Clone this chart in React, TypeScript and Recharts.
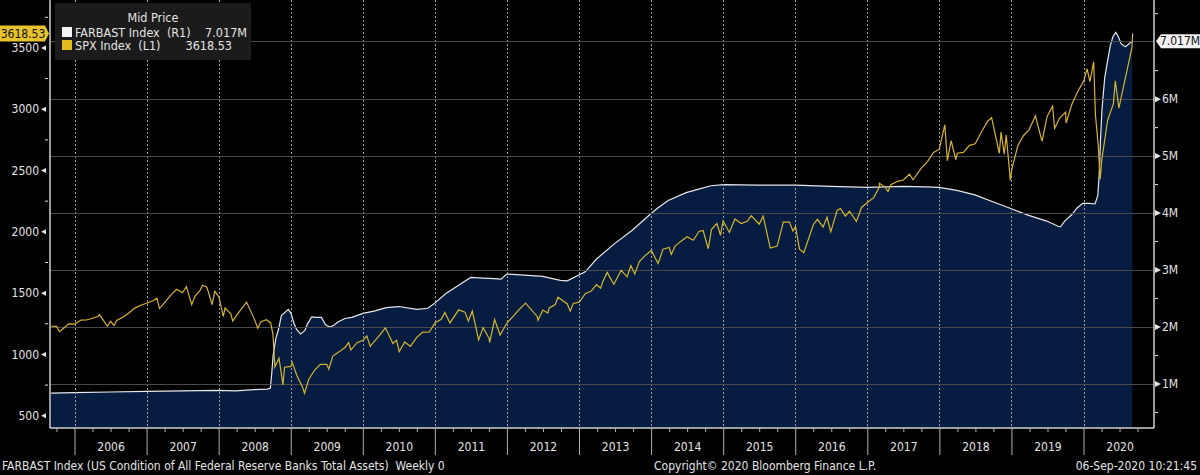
import React from "react";
import { ComposedChart, Area, Line, XAxis, YAxis, ReferenceLine } from "recharts";

// ---------- DATA ----------
const farbastDates = [
  "2005-09-02", "2005-12-28", "2006-06-28", "2006-12-27", "2007-06-27", "2007-12-26",
  "2008-03-26", "2008-06-25", "2008-09-03", "2008-09-17", "2008-09-24", "2008-10-01",
  "2008-10-15", "2008-10-29", "2008-11-12", "2008-12-17", "2008-12-31", "2009-01-14",
  "2009-01-28", "2009-02-18", "2009-03-11", "2009-03-25", "2009-04-15", "2009-05-06",
  "2009-06-03", "2009-06-24", "2009-07-15", "2009-08-05", "2009-08-26", "2009-09-30",
  "2009-11-04", "2009-12-30", "2010-02-24", "2010-04-28", "2010-06-30", "2010-09-29",
  "2010-11-24", "2010-12-29", "2011-02-23", "2011-04-27", "2011-06-29", "2011-08-31",
  "2011-10-26", "2011-11-30", "2011-12-28", "2012-03-28", "2012-06-27", "2012-09-26",
  "2012-10-31", "2012-12-26", "2013-01-30", "2013-03-27", "2013-06-26", "2013-09-25",
  "2013-12-25", "2014-01-29", "2014-03-26", "2014-06-25", "2014-08-27", "2014-10-29",
  "2014-12-31", "2015-06-24", "2015-12-30", "2016-06-29", "2016-12-28", "2017-06-28",
  "2017-10-25", "2017-12-27", "2018-03-28", "2018-06-27", "2018-09-26", "2018-12-26",
  "2019-03-27", "2019-06-26", "2019-08-28", "2019-09-04", "2019-09-25", "2019-10-30",
  "2019-11-27", "2019-12-25", "2020-01-29", "2020-02-26", "2020-03-11", "2020-03-18",
  "2020-03-25", "2020-04-01", "2020-04-15", "2020-04-29", "2020-05-13", "2020-05-27",
  "2020-06-10", "2020-06-24", "2020-07-08", "2020-07-29", "2020-08-12", "2020-08-26",
  "2020-09-02",
];
// FARBAST total assets, in millions of USD (axis shown in "M")
const farbastValues = [
  0.84, 0.85, 0.86, 0.87, 0.88, 0.89,
  0.88, 0.9, 0.91, 0.93, 1.18, 1.5,
  1.8, 1.97, 2.2, 2.31, 2.24, 2.07,
  1.96, 1.88, 1.94, 2.06, 2.18, 2.17,
  2.17, 2.04, 2.0, 2.03, 2.09, 2.15,
  2.17, 2.24, 2.28, 2.34, 2.36, 2.31,
  2.33, 2.42, 2.59, 2.73, 2.87, 2.86,
  2.85, 2.84, 2.93, 2.91, 2.89, 2.82,
  2.81, 2.91, 2.97, 3.19, 3.46, 3.7,
  3.98, 4.08, 4.22, 4.36, 4.42, 4.48,
  4.5, 4.49, 4.49, 4.47, 4.45, 4.47,
  4.46, 4.45, 4.4, 4.32, 4.2, 4.08,
  3.96, 3.86, 3.76, 3.76, 3.86, 3.97,
  4.09, 4.17, 4.17, 4.16, 4.31, 4.67,
  5.3, 5.81, 6.37, 6.66, 6.93, 7.1,
  7.17, 7.09, 6.97, 6.92, 6.96, 7.0,
  7.017,
];

const spxDates = [
  "2005-09-02", "2005-09-30", "2005-10-14", "2005-10-31", "2005-11-30", "2005-12-30",
  "2006-01-31", "2006-02-28", "2006-03-31", "2006-04-28", "2006-05-05", "2006-06-14",
  "2006-06-30", "2006-07-18", "2006-07-31", "2006-08-31", "2006-09-29", "2006-10-31",
  "2006-11-30", "2006-12-29", "2007-01-31", "2007-02-20", "2007-03-05", "2007-03-30",
  "2007-04-30", "2007-05-31", "2007-06-29", "2007-07-19", "2007-08-15", "2007-08-31",
  "2007-09-28", "2007-10-09", "2007-10-31", "2007-11-26", "2007-12-10", "2007-12-31",
  "2008-01-22", "2008-01-31", "2008-02-29", "2008-03-10", "2008-03-31", "2008-04-30",
  "2008-05-19", "2008-06-30", "2008-07-15", "2008-07-31", "2008-08-29", "2008-09-19",
  "2008-09-30", "2008-10-10", "2008-10-31", "2008-11-20", "2008-11-28", "2008-12-31",
  "2009-01-06", "2009-01-30", "2009-02-27", "2009-03-09", "2009-03-31", "2009-04-30",
  "2009-05-29", "2009-06-30", "2009-07-10", "2009-07-31", "2009-08-31", "2009-09-30",
  "2009-10-19", "2009-10-30", "2009-11-30", "2009-12-31", "2010-01-19", "2010-02-05",
  "2010-03-31", "2010-04-23", "2010-05-31", "2010-06-18", "2010-07-02", "2010-07-30",
  "2010-08-27", "2010-09-30", "2010-10-29", "2010-11-30", "2010-12-31", "2011-01-31",
  "2011-02-18", "2011-03-16", "2011-04-29", "2011-05-31", "2011-06-17", "2011-07-07",
  "2011-08-08", "2011-08-31", "2011-09-30", "2011-10-03", "2011-10-28", "2011-11-25",
  "2011-12-30", "2012-01-31", "2012-02-29", "2012-04-02", "2012-05-31", "2012-06-04",
  "2012-06-29", "2012-07-24", "2012-07-31", "2012-08-31", "2012-09-14", "2012-10-31",
  "2012-11-15", "2012-11-30", "2012-12-31", "2013-01-31", "2013-02-28", "2013-03-28",
  "2013-04-18", "2013-04-30", "2013-05-21", "2013-06-24", "2013-07-31", "2013-08-30",
  "2013-09-18", "2013-10-08", "2013-10-31", "2013-11-29", "2013-12-31", "2014-02-03",
  "2014-02-28", "2014-03-31", "2014-04-11", "2014-04-30", "2014-05-30", "2014-06-30",
  "2014-07-31", "2014-08-29", "2014-09-19", "2014-10-15", "2014-10-31", "2014-11-28",
  "2014-12-16", "2014-12-29", "2015-01-30", "2015-02-27", "2015-03-31", "2015-04-30",
  "2015-05-21", "2015-06-30", "2015-07-20", "2015-08-25", "2015-09-29", "2015-10-30",
  "2015-11-30", "2015-12-18", "2015-12-31", "2016-01-20", "2016-02-11", "2016-03-31",
  "2016-04-20", "2016-05-19", "2016-06-08", "2016-06-27", "2016-07-29", "2016-08-15",
  "2016-09-09", "2016-09-30", "2016-11-04", "2016-11-30", "2016-12-30", "2017-01-31",
  "2017-02-28", "2017-03-01", "2017-03-31", "2017-04-13", "2017-04-28", "2017-05-31",
  "2017-06-30", "2017-07-31", "2017-08-18", "2017-09-29", "2017-10-31", "2017-11-30",
  "2017-12-29", "2018-01-26", "2018-02-08", "2018-02-27", "2018-03-23", "2018-03-30",
  "2018-04-30", "2018-05-31", "2018-06-29", "2018-07-31", "2018-08-31", "2018-09-20",
  "2018-10-29", "2018-11-07", "2018-11-23", "2018-12-03", "2018-12-24", "2018-12-31",
  "2019-01-31", "2019-02-28", "2019-03-29", "2019-04-30", "2019-05-31", "2019-06-03",
  "2019-06-28", "2019-07-26", "2019-08-05", "2019-08-30", "2019-09-30", "2019-10-02",
  "2019-10-31", "2019-11-29", "2019-12-31", "2020-01-17", "2020-01-31", "2020-02-19",
  "2020-02-28", "2020-03-13", "2020-03-23", "2020-03-31", "2020-04-30", "2020-05-29",
  "2020-06-08", "2020-06-26", "2020-07-31", "2020-08-31", "2020-09-04",
];
const spxValues = [
  1230, 1229, 1186, 1207, 1249, 1248,
  1280, 1281, 1295, 1311, 1325, 1230,
  1270, 1236, 1277, 1304, 1336, 1378,
  1401, 1418, 1438, 1459, 1374, 1421,
  1482, 1531, 1503, 1553, 1406, 1474,
  1527, 1565, 1549, 1407, 1515, 1468,
  1310, 1379, 1331, 1273, 1323, 1386,
  1427, 1280, 1214, 1267, 1283, 1255,
  1166, 899, 969, 752, 896, 903,
  935, 826, 735, 683, 798, 873,
  919, 919, 880, 987, 1021, 1057,
  1097, 1036, 1096, 1115, 1150, 1066,
  1169, 1217, 1089, 1117, 1022, 1102,
  1065, 1141, 1183, 1181, 1258, 1286,
  1343, 1257, 1364, 1345, 1272, 1353,
  1119, 1219, 1131, 1099, 1285, 1159,
  1258, 1312, 1366, 1419, 1310, 1278,
  1362, 1338, 1379, 1407, 1466, 1412,
  1353, 1416, 1426, 1498, 1515, 1569,
  1541, 1598, 1669, 1573, 1686, 1633,
  1725, 1656, 1757, 1806, 1848, 1742,
  1859, 1872, 1816, 1884, 1924, 1960,
  1931, 2003, 2011, 1862, 2018, 2068,
  1972, 2090, 1995, 2105, 2068, 2086,
  2131, 2063, 2128, 1868, 1884, 2079,
  2080, 2006, 2044, 1859, 1829, 2060,
  2102, 2040, 2119, 2000, 2174, 2190,
  2128, 2168, 2085, 2199, 2239, 2279,
  2364, 2396, 2363, 2329, 2384, 2412,
  2423, 2470, 2425, 2519, 2575, 2648,
  2674, 2873, 2581, 2744, 2588, 2641,
  2648, 2705, 2718, 2816, 2902, 2931,
  2641, 2814, 2633, 2790, 2420, 2507,
  2704, 2784, 2834, 2946, 2752, 2744,
  2942, 3026, 2845, 2926, 2977, 2887,
  3038, 3141, 3231, 3330, 3226, 3386,
  2954, 2711, 2430, 2585, 2912, 3044,
  3232, 3009, 3271, 3500, 3618.53,
];

const yearLabels = [
  "2006", "2007", "2008", "2009", "2010", "2011", "2012", "2013",
  "2014", "2015", "2016", "2017", "2018", "2019", "2020",
];
const leftLabelTicks = [500, 1000, 1500, 2000, 2500, 3000, 3500];
const leftMinorTicks = [750, 1250, 1750, 2250, 2750, 3250, 3750];
const rightLabelTicks = [1, 2, 3, 4, 5, 6];
const rightMinorTicks = [0.5, 1.5, 2.5, 3.5, 4.5, 5.5, 6.5, 7.5];

const legendTitle = "Mid Price";
const farbastName = "FARBAST Index  (R1)";
const spxName = "SPX Index  (L1)";
const farbastLast = 7.017;
const spxLast = 3618.53;
const farbastLastLabel = "7.017M";
const spxLastLabel = "3618.53";
const footerLeft = "FARBAST Index (US Condition of All Federal Reserve Banks Total Assets)  Weekly 0";
const footerMid = "Copyright\u00A9 2020 Bloomberg Finance L.P.";
const footerRight = "06-Sep-2020 10:21:45";

// ---------- helpers ----------
const toYear = (s: string) => {
  const [y, m, d] = s.split("-").map(Number);
  const t = Date.UTC(y, m - 1, d);
  const a = Date.UTC(y, 0, 1);
  const b = Date.UTC(y + 1, 0, 1);
  return y + (t - a) / (b - a);
};

const farbastData = farbastDates.map((d, i) => ({ t: toYear(d), v: farbastValues[i] }));
const spxData = spxDates.map((d, i) => ({ t: toYear(d), v: spxValues[i] }));

const X_DOMAIN: [number, number] = [2005.653, 2020.971];
const yearStarts = yearLabels.map((y) => Number(y));
const xTicks: number[] = [];
for (let y = 2005; y <= 2020; y++) {
  for (let q = 0; q < 4; q++) {
    const v = y + q / 4;
    if (v >= X_DOMAIN[0] && v <= X_DOMAIN[1]) xTicks.push(v);
  }
}

const FONT = "'DejaVu Sans Condensed', 'Liberation Sans Narrow', 'DejaVu Sans', sans-serif";
const TXT = "#e4e4e4";
const GRID = "#a2a2a2";
const HGRID = "#4a4a4a";
const NAVY = "#09285a";
const YELLOW = "#d6b42c";

// grid line shapes: they take the end points the library computed and draw a crisp 1px line
const snapDown = (v: number) => Math.floor(v);
const VGridShape = (p: any) => (
  <line
    x1={snapDown(p.x1) + 0.5}
    x2={snapDown(p.x2) + 0.5}
    y1={Math.min(p.y1, p.y2)}
    y2={Math.max(p.y1, p.y2)}
    stroke={GRID}
    strokeWidth={1}
    strokeDasharray="2 2"
    shapeRendering="crispEdges"
  />
);
const HGridShape = (p: any) => (
  <line
    x1={Math.min(p.x1, p.x2)}
    x2={Math.max(p.x1, p.x2)}
    y1={snapDown(p.y1) + 0.5}
    y2={snapDown(p.y2) + 0.5}
    stroke={HGRID}
    strokeWidth={1}
    shapeRendering="crispEdges"
  />
);

const XTick = (props: any) => {
  const { x, y, payload } = props;
  const v = payload.value as number;
  const frac = v - Math.floor(v);
  if (frac < 1e-6) {
    return <line x1={x} x2={x} y1={y} y2={y + 27} stroke="#b0b0b0" strokeWidth={1} />;
  }
  const isMid = Math.abs(frac - 0.5) < 1e-6;
  return (
    <g>
      <line x1={x} x2={x} y1={y} y2={y + 4} stroke="#b0b0b0" strokeWidth={1} />
      {isMid ? (
        <text x={x} y={y + 23} textAnchor="middle" fill={TXT} fontSize={12} fontFamily={FONT}>
          {String(Math.floor(v))}
        </text>
      ) : null}
    </g>
  );
};

const LeftTick = (props: any) => {
  const { x, y, payload } = props;
  const v = payload.value as number;
  if (leftLabelTicks.includes(v)) {
    return (
      <g>
        <polygon points={`${x - 9},${y} ${x - 4},${y - 2.5} ${x - 4},${y + 2.5}`} fill={TXT} />
        <text x={x - 11} y={y} dy="0.35em" textAnchor="end" fill={TXT} fontSize={12} fontFamily={FONT}>
          {String(v)}
        </text>
      </g>
    );
  }
  return <line x1={x - 5} x2={x - 2} y1={y} y2={y} stroke={TXT} strokeWidth={1} />;
};

const RightTick = (props: any) => {
  const { x, y, payload } = props;
  const v = payload.value as number;
  if (rightLabelTicks.includes(v)) {
    return (
      <g>
        <polygon points={`${x + 7},${y} ${x + 1},${y - 3} ${x + 1},${y + 3}`} fill={TXT} />
        <text x={x + 8} y={y} dy="0.35em" textAnchor="start" fill={TXT} fontSize={12} fontFamily={FONT}>
          {`${v}M`}
        </text>
      </g>
    );
  }
  return <line x1={x + 1} x2={x + 4} y1={y} y2={y} stroke={TXT} strokeWidth={1} />;
};

const LeftBadge = (props: any) => {
  const { viewBox } = props;
  const y = viewBox.y;
  const x0 = viewBox.x;
  return (
    <g>
      <polygon
        points={`${x0 - 50},${y - 8} ${x0 - 5},${y - 8} ${x0 - 1},${y} ${x0 - 5},${y + 8} ${x0 - 50},${y + 8}`}
        fill="#e6c22c"
      />
      <text x={x0 - 27} y={y} dy="0.35em" textAnchor="middle" fill="#111" fontSize={12} fontFamily={FONT}>
        {spxLastLabel}
      </text>
    </g>
  );
};

const RightBadge = (props: any) => {
  const { viewBox } = props;
  const y = viewBox.y;
  const x1 = viewBox.x + viewBox.width;
  return (
    <g>
      <polygon
        points={`${x1 + 2},${y} ${x1 + 7},${y - 7} ${x1 + 46},${y - 7} ${x1 + 46},${y + 7} ${x1 + 7},${y + 7}`}
        fill="#f2f2f2"
      />
      <text x={x1 + 26} y={y} dy="0.35em" textAnchor="middle" fill="#111" fontSize={12} fontFamily={FONT}>
        {farbastLastLabel}
      </text>
    </g>
  );
};

export default function App() {
  return (
    <div
      style={{
        position: "absolute",
        left: 0,
        top: 0,
        width: 1200,
        height: 475,
        background: "#000",
        overflow: "hidden",
        fontFamily: FONT,
      }}
    >
      <ComposedChart width={1200} height={475} margin={{ top: 0, right: 0, bottom: 0, left: 0 }}>
        <XAxis
          xAxisId="x"
          type="number"
          dataKey="t"
          domain={X_DOMAIN}
          allowDataOverflow
          ticks={xTicks}
          interval={0}
          height={47}
          tickSize={0}
          tickMargin={0}
          tick={<XTick />}
          axisLine={{ stroke: "#d0d0d0", strokeWidth: 1.5 }}
          tickLine={false}
        />
        <YAxis
          yAxisId="left"
          orientation="left"
          type="number"
          domain={[400, 3891]}
          allowDataOverflow
          ticks={[...leftLabelTicks, ...leftMinorTicks].sort((a, b) => a - b)}
          interval={0}
          width={50}
          tickSize={0}
          tickMargin={0}
          tick={<LeftTick />}
          axisLine={{ stroke: "#d0d0d0", strokeWidth: 1.5 }}
          tickLine={false}
        />
        <YAxis
          yAxisId="right"
          orientation="right"
          type="number"
          domain={[0.228, 7.74]}
          allowDataOverflow
          ticks={[...rightLabelTicks, ...rightMinorTicks].sort((a, b) => a - b)}
          interval={0}
          width={46}
          tickSize={0}
          tickMargin={0}
          tick={<RightTick />}
          axisLine={{ stroke: "#d0d0d0", strokeWidth: 1.5 }}
          tickLine={false}
        />
        <Area
          xAxisId="x"
          yAxisId="right"
          data={farbastData}
          dataKey="v"
          type="linear"
          stroke="#e8e8e8"
          strokeWidth={1.2}
          fill={NAVY}
          fillOpacity={0.72}
          isAnimationActive={false}
          dot={false}
          activeDot={false}
        />
        {yearStarts.map((yr) => (
          <ReferenceLine
            key={`vx${yr}`}
            xAxisId="x"
            yAxisId="right"
            x={yr}
            shape={VGridShape}
          />
        ))}
        {[...rightLabelTicks, farbastLast].map((v) => (
          <ReferenceLine
            key={`hy${v}`}
            xAxisId="x"
            yAxisId="right"
            y={v}
            shape={HGridShape}
          />
        ))}
        <ReferenceLine
          xAxisId="x"
          yAxisId="right"
          y={farbastLast}
          stroke="none"
          label={<RightBadge />}
        />
        <ReferenceLine
          xAxisId="x"
          yAxisId="left"
          y={spxLast}
          stroke="none"
          label={<LeftBadge />}
        />
        <Line
          xAxisId="x"
          yAxisId="left"
          data={spxData}
          dataKey="v"
          type="linear"
          stroke={YELLOW}
          strokeWidth={1.2}
          dot={false}
          activeDot={false}
          isAnimationActive={false}
        />
      </ComposedChart>

      <div
        style={{
          position: "absolute",
          left: 55,
          top: 3,
          width: 196,
          height: 57,
          background: "#1b1b1b",
          color: TXT,
          fontSize: 12.5,
          lineHeight: "13px",
        }}
      >
        <div style={{ position: "absolute", left: 0, width: 196, top: 8, textAlign: "center" }}>{legendTitle}</div>
        <div style={{ position: "absolute", left: 7, top: 24, width: 10, height: 10, background: "#f4f4f4" }} />
        <div style={{ position: "absolute", left: 20, top: 23, whiteSpace: "pre" }}>{farbastName}</div>
        <div style={{ position: "absolute", right: 4, top: 23, whiteSpace: "pre" }}>{farbastLastLabel}</div>
        <div style={{ position: "absolute", left: 7, top: 37, width: 10, height: 10, background: "#e3bc1e" }} />
        <div style={{ position: "absolute", left: 20, top: 36, whiteSpace: "pre" }}>{spxName}</div>
        <div style={{ position: "absolute", right: 19, top: 36, whiteSpace: "pre" }}>{spxLastLabel}</div>
      </div>

      <div style={{ position: "absolute", left: 2, top: 459, color: TXT, fontSize: 12, whiteSpace: "pre" }}>
        {footerLeft}
      </div>
      <div style={{ position: "absolute", left: 654, top: 459, color: TXT, fontSize: 12, whiteSpace: "pre" }}>
        {footerMid}
      </div>
      <div style={{ position: "absolute", right: 3, top: 459, color: TXT, fontSize: 12, whiteSpace: "pre" }}>
        {footerRight}
      </div>
    </div>
  );
}
